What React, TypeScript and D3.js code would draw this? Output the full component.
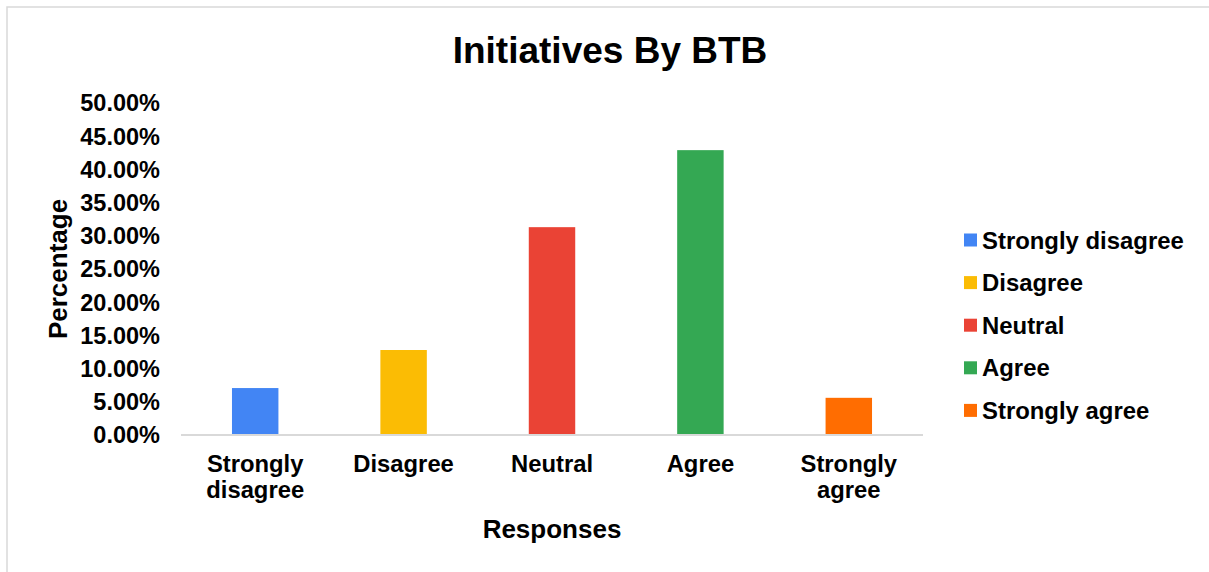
import React from "react";
import * as d3 from "d3";

const categories = ["Strongly disagree", "Disagree", "Neutral", "Agree", "Strongly agree"];
const categoryLines = [["Strongly", "disagree"], ["Disagree"], ["Neutral"], ["Agree"], ["Strongly", "agree"]];
const values = [0.0707, 0.128, 0.313, 0.429, 0.056];
const colors = ["#4285F4", "#FBBC04", "#EA4335", "#34A853", "#FF6D01"];
const yTicks = [0, 0.05, 0.1, 0.15, 0.2, 0.25, 0.3, 0.35, 0.4, 0.45, 0.5];

const W = 1209;
const H = 572;
const FONT = "'Liberation Sans', Arial, sans-serif";

export default function App() {
  const x = d3.scaleBand<string>().domain(categories).range([181, 923]).padding(0);
  const y = d3.scaleLinear().domain([0, 0.5]).range([435, 103]);
  const barW = x.bandwidth() * 0.313;
  const fmt = (v: number) => (v * 100).toFixed(2) + "%";

  return (
    <svg width={W} height={H} style={{ position: "absolute", left: 0, top: 0, background: "#fff" }} fontFamily={FONT}>
      <rect x={7} y={7} width={W + 10} height={H + 10} fill="#fff" stroke="#d9d9d9" strokeWidth={1.5} />
      <text x={610} y={63} textAnchor="middle" fontSize={37} fontWeight="bold" fill="#000">
        Initiatives By BTB
      </text>
      {yTicks.map((t) => (
        <text key={t} x={160} y={y(t)} dy="0.36em" textAnchor="end" fontSize={23.5} fontWeight="bold" fill="#000">
          {fmt(t)}
        </text>
      ))}
      {categories.map((c, i) => (
        <rect
          key={c}
          x={(x(c) as number) + x.bandwidth() / 2 - barW / 2}
          y={y(values[i])}
          width={barW}
          height={y(0) - y(values[i])}
          fill={colors[i]}
        />
      ))}
      <line x1={181} x2={923} y1={y(0)} y2={y(0)} stroke="#d9d9d9" strokeWidth={2} />
      {categories.map((c, i) => (
        <text key={c} textAnchor="middle" fontSize={23.8} fontWeight="bold" fill="#000">
          {categoryLines[i].map((l, j) => (
            <tspan key={j} x={(x(c) as number) + x.bandwidth() / 2} y={472 + j * 26}>
              {l}
            </tspan>
          ))}
        </text>
      ))}
      <text x={552} y={538} textAnchor="middle" fontSize={26} fontWeight="bold" fill="#000">
        Responses
      </text>
      <text transform="translate(67,269) rotate(-90)" textAnchor="middle" fontSize={26} fontWeight="bold" fill="#000">
        Percentage
      </text>
      {categories.map((c, i) => {
        const cy = 240 + i * 42.6;
        return (
          <g key={c}>
            <rect x={964} y={cy - 6.5} width={13} height={13} fill={colors[i]} />
            <text x={982} y={cy} dy="0.36em" fontSize={23.9} fontWeight="bold" fill="#000">
              {c}
            </text>
          </g>
        );
      })}
    </svg>
  );
}
